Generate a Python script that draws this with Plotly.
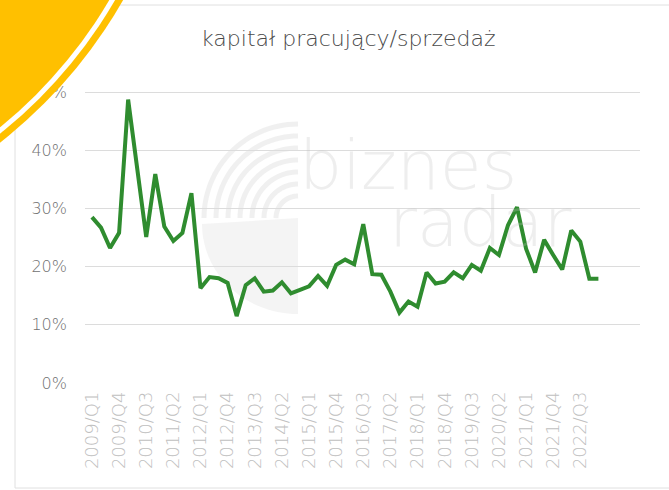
import numpy as np
import plotly.graph_objects as go

# ---- data ----
years = list(range(2009, 2024))
quarters = [f"{y}/Q{q}" for y in years for q in range(1, 5)][:57]   # 2009/Q1 .. 2023/Q1
values = [28.5, 26.7, 23.2, 25.8, 48.7, 36.5, 25.1, 35.9, 26.9, 24.4,
          25.8, 32.6, 16.3, 18.2, 18.0, 17.2, 11.5, 16.8, 18.0, 15.7,
          15.9, 17.3, 15.4, 16.0, 16.6, 18.4, 16.7, 20.3, 21.2, 20.4,
          27.3, 18.7, 18.6, 15.7, 12.1, 14.0, 13.1, 19.0, 17.1, 17.4,
          19.0, 18.0, 20.3, 19.3, 23.2, 22.0, 27.1, 30.2, 23.1, 19.0,
          24.6, 22.0, 19.5, 26.2, 24.3, 17.9, 17.9]
tick_labels = quarters[0:55:3]
y_ticks = [0, 10, 20, 30, 40, 50, 60]
y_tick_labels = [f"{v}%" for v in y_ticks]
title_text = "kapitał pracujący/sprzedaż"

W, H = 669, 490
ML, MR, MT, MB = 85, 29, 33, 107
PW, PH = W - ML - MR, H - MT - MB

def px(x):
    return (x - ML) / PW

def py(y):
    return (H - MB - y) / PH

x_idx = list(range(len(values)))
fig = go.Figure()
fig.add_trace(go.Scatter(
    x=x_idx, y=values, mode="lines",
    line=dict(color="#2f8c2f", width=4, shape="linear"),
    hoverinfo="skip", showlegend=False,
))

FONT = "'DejaVu Sans', sans-serif"
fig.update_layout(
    width=W, height=H,
    margin=dict(l=ML, r=MR, t=MT, b=MB),
    paper_bgcolor="white", plot_bgcolor="white",
    showlegend=False,
    font=dict(family=FONT),
    xaxis=dict(
        range=[-0.77, 60.6],
        tickmode="array",
        tickvals=[quarters.index(t) for t in tick_labels],
        ticktext=tick_labels,
        tickangle=-90,
        tickfont=dict(size=18, color="#c0c0c0", family=FONT, weight=200),
        showgrid=False, zeroline=False, showline=False, ticks="",
        ticklabelstandoff=4,
    ),
    yaxis=dict(
        range=[0, 60.15],
        tickmode="array",
        tickvals=y_ticks,
        ticktext=y_tick_labels,
        tickfont=dict(size=16, color="#707070", family=FONT, weight=200),
        showgrid=True, gridcolor="#dcdcdc", gridwidth=1,
        zeroline=False, showline=False, ticks="",
        ticklabelstandoff=17,
    ),
)

# watermark
WM = "rgba(195,195,195,0.28)"
fig.add_annotation(xref="paper", yref="paper", x=px(408), y=py(165),
                   xanchor="center", yanchor="middle",
                   text="biznes", showarrow=False,
                   font=dict(size=68, color=WM, family=FONT, weight=200))
fig.add_annotation(xref="paper", yref="paper", x=px(480), y=py(222),
                   xanchor="center", yanchor="middle",
                   text="radar", showarrow=False,
                   font=dict(size=68, color=WM, family=FONT, weight=200))
cx, cy = 298, 218
for r in [22, 34, 46, 58, 70, 82, 94]:
    th = np.linspace(np.pi, np.pi * 1.5, 30)
    pts = [(cx + r * np.cos(t), cy + r * np.sin(t)) for t in th]
    path = "M " + " L ".join(f"{px(a):.4f},{py(b):.4f}" for a, b in pts)
    fig.add_shape(type="path", xref="paper", yref="paper", path=path,
                  line=dict(color="rgba(200,200,200,0.28)", width=5), layer="below")
th = np.linspace(np.pi / 2, np.pi, 30)
pts = [(cx, cy)] + [(cx + 96 * np.cos(t), cy + 6 + 90 * np.sin(t)) for t in th]
path = "M " + " L ".join(f"{px(a):.4f},{py(b):.4f}" for a, b in pts) + " Z"
fig.add_shape(type="path", xref="paper", yref="paper", path=path,
              fillcolor="rgba(205,205,205,0.22)", line=dict(width=0), layer="below")

# title with white box
fig.add_annotation(xref="paper", yref="paper", x=px(348), y=py(39),
                   xanchor="center", yanchor="middle",
                   text=title_text, showarrow=False, bgcolor="white",
                   borderpad=5,
                   font=dict(size=22, color="#4a4a4a", family=FONT, weight=200))

# chart border (light)
for (x0, y0, x1, y1) in [(15, 5, 680, 5), (15, 5, 15, 488), (15, 488, 680, 488)]:
    fig.add_shape(type="line", xref="paper", yref="paper",
                  x0=px(x0), y0=py(y0), x1=px(x1), y1=py(y1),
                  line=dict(color="#e0e0e0", width=1), layer="below")

# decorative yellow circle in the corner
ccx, ccy = -300, -241
def circ(r, color):
    fig.add_shape(type="circle", xref="paper", yref="paper",
                  x0=px(ccx - r), x1=px(ccx + r), y0=py(ccy + r), y1=py(ccy - r),
                  fillcolor=color, line=dict(width=0), layer="above")
circ(487, "#ffc000")
circ(480, "white")
circ(475, "#ffc000")

fig.write_html("out.html", config={"displayModeBar": False},
               post_script="document.body.style.margin='0px';")
